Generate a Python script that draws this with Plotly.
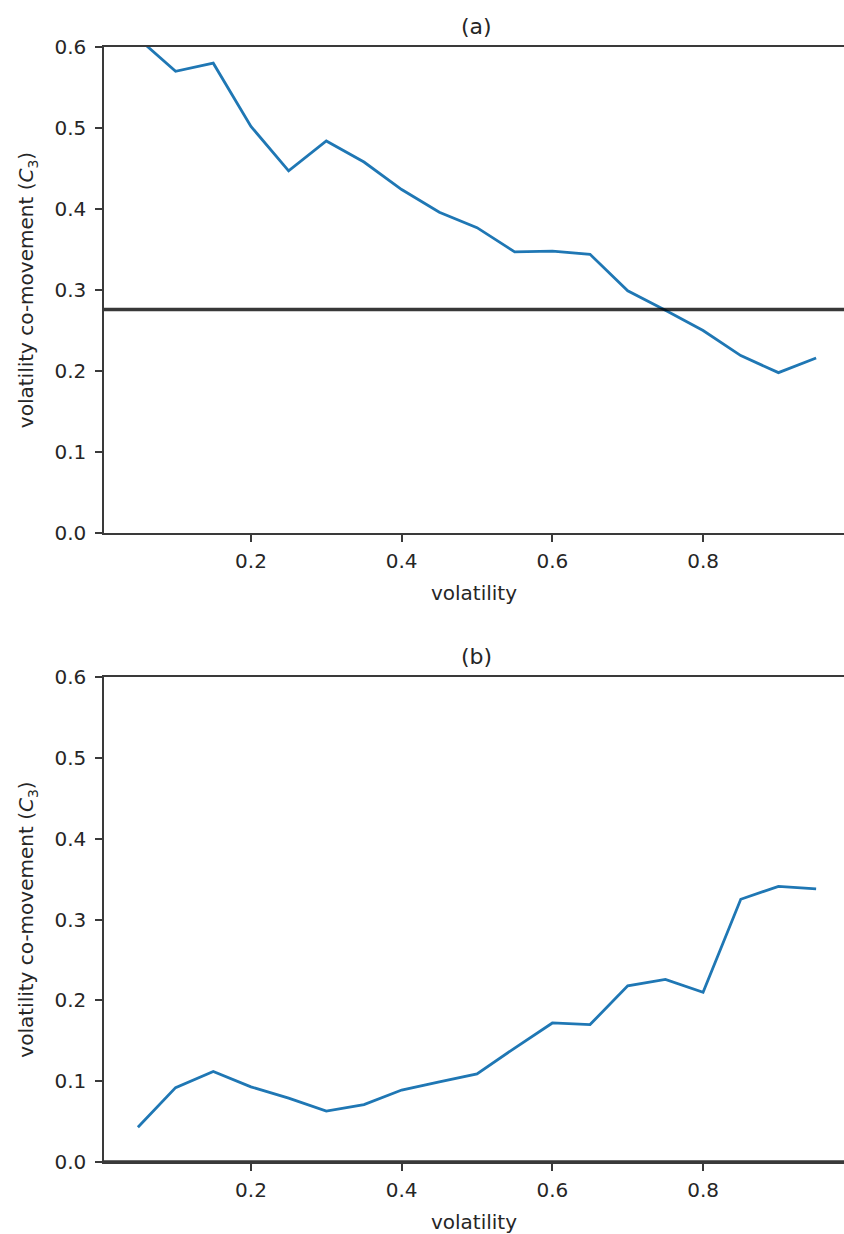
import plotly.graph_objects as go

# volatility levels (shared x for both panels)
volatility = [0.05, 0.10, 0.15, 0.20, 0.25, 0.30, 0.35, 0.40, 0.45, 0.50,
              0.55, 0.60, 0.65, 0.70, 0.75, 0.80, 0.85, 0.90, 0.95]

# panel (a): co-movement C3
comove_a = [0.611, 0.570, 0.580, 0.502, 0.447, 0.484, 0.458, 0.424, 0.396, 0.377,
            0.347, 0.348, 0.344, 0.299, 0.275, 0.250, 0.219, 0.198, 0.216]
ref_a = 0.276

# panel (b): co-movement C3
comove_b = [0.043, 0.092, 0.112, 0.093, 0.079, 0.063, 0.071, 0.089, 0.099, 0.109,
            0.141, 0.172, 0.170, 0.218, 0.226, 0.210, 0.325, 0.341, 0.338]
ref_b = 0.0

panel_titles = ["(a)", "(b)"]
x_ticks = [0.2, 0.4, 0.6, 0.8]
y_ticks = [0.0, 0.1, 0.2, 0.3, 0.4, 0.5, 0.6]

FONT = "DejaVu Sans"
TXT = "#262626"
SPINE = "#3a3a3a"
BLUE = "#1f77b4"
FS = 20

W, H = 844, 1234
ML, MR, MT, MB = 104, 0, 47, 72
plot_h = H - MT - MB
top_dom = [(1162 - 533) / plot_h, 1.0]
bot_dom = [0.0, (1162 - 677) / plot_h]

fig = go.Figure()
fig.add_trace(go.Scatter(x=volatility, y=comove_a, mode="lines",
                         line=dict(color=BLUE, width=2.8), xaxis="x", yaxis="y",
                         showlegend=False))
fig.add_trace(go.Scatter(x=volatility, y=comove_b, mode="lines",
                         line=dict(color=BLUE, width=2.8), xaxis="x2", yaxis="y2",
                         showlegend=False))

xcommon = dict(range=[0.005, 0.987], tickvals=x_ticks, ticktext=[f"{v:.1f}" for v in x_ticks],
               showgrid=False, zeroline=False, showline=True, linecolor=SPINE, linewidth=1.5,
               mirror=True, ticks="outside", ticklen=7, tickwidth=1.5, tickcolor=SPINE,
               ticklabelstandoff=2,
               tickfont=dict(family=FONT, size=FS, color=TXT),
               title=dict(text="volatility", font=dict(family=FONT, size=FS, color=TXT),
                          standoff=14))
ycommon = dict(range=[0, 0.6], tickvals=y_ticks, ticktext=[f"{v:.1f}" for v in y_ticks],
               showgrid=False, zeroline=False, showline=True, linecolor=SPINE, linewidth=1.5,
               ticks="outside", ticklen=7, tickwidth=1.5, tickcolor=SPINE,
               ticklabelstandoff=5,
               tickfont=dict(family=FONT, size=FS, color=TXT),
               title=dict(text="volatility co-movement (<i>C</i><sub>3</sub>)",
                          font=dict(family=FONT, size=FS, color=TXT), standoff=15))

fig.update_layout(
    width=W, height=H,
    margin=dict(l=ML, r=MR, t=MT, b=MB),
    paper_bgcolor="white", plot_bgcolor="white",
    xaxis=dict(domain=[0, 1], anchor="y", **xcommon),
    yaxis=dict(domain=top_dom, anchor="x", **ycommon),
    xaxis2=dict(domain=[0, 1], anchor="y2", **xcommon),
    yaxis2=dict(domain=bot_dom, anchor="x2", **ycommon),
)

# reference levels
fig.add_shape(type="line", xref="x domain", yref="y", x0=0, x1=1, y0=ref_a, y1=ref_a,
              line=dict(color="rgba(0,0,0,0.78)", width=3.6))
fig.add_shape(type="line", xref="x2 domain", yref="y2", x0=0, x1=1, y0=ref_b, y1=ref_b,
              line=dict(color="rgba(0,0,0,0.78)", width=3.6))

# panel titles, centred over the full axes width
axes_center = (476 - ML) / (W - ML)
for title, dom in zip(panel_titles, [top_dom, bot_dom]):
    fig.add_annotation(text=title, xref="paper", yref="paper", x=axes_center, y=dom[1],
                       yshift=6, yanchor="bottom", showarrow=False,
                       font=dict(family=FONT, size=22, color=TXT))

fig.write_html("out.html")
